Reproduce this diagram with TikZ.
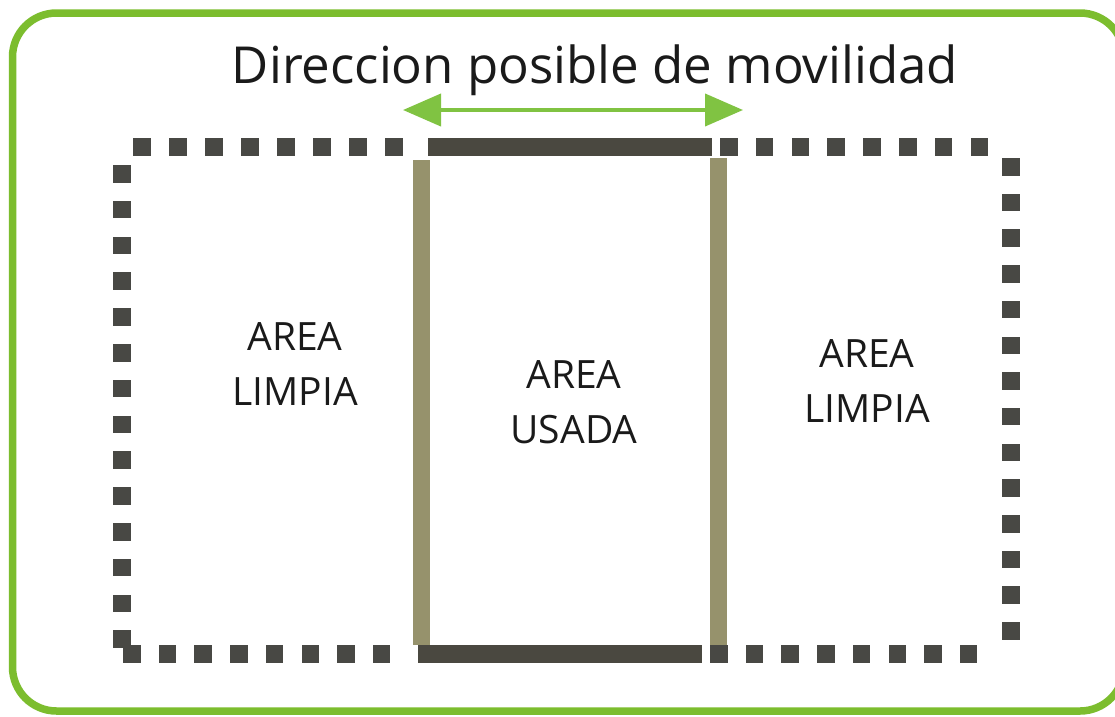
\documentclass[tikz,border=0pt]{standalone}
\usepackage{fontspec}
\setmainfont{Open Sans}
\usetikzlibrary{arrows.meta}
\definecolor{framegreen}{RGB}{124,189,46}
\definecolor{arrowgreen}{RGB}{128,195,66}
\definecolor{darkbar}{RGB}{74,72,64}
\definecolor{dotgray}{RGB}{72,72,68}
\definecolor{olive}{RGB}{150,146,108}
\definecolor{txt}{RGB}{26,26,26}
\tikzset{
  sq/.style={fill=dotgray, draw=none},
  lbl/.style={font=\fontsize{39}{55}\selectfont, text=txt, align=center, inner sep=0pt},
  ttl/.style={font=\fontsize{51}{60}\selectfont, text=txt, inner sep=0pt, anchor=base},
}
\begin{document}
\begin{tikzpicture}[x=1pt,y=-1pt]
\clip (0,0) rectangle (1115,716);
\fill[white] (0,0) rectangle (1115,716);
% outer green frame
\draw[framegreen, line width=7.5pt, rounded corners=44pt] (12.5,13) rectangle (1124,711);
% title
\node[ttl] (title) at (595,83) {Direccion posible de movilidad};
% arrow
\coordinate (aL) at (403,110);
\coordinate (aR) at (743,110);
\draw[arrowgreen, line width=4pt, {Triangle[length=38pt,width=32pt]}-{Triangle[length=38pt,width=32pt]}] (aL) -- (aR);
% dotted boundary squares
\foreach \i in {0,...,7} {
  \fill[sq] ({133+36*\i},138) rectangle ++(17.5,17.5);
  \fill[sq] ({720+35.8*\i},138) rectangle ++(17.5,17.5);
  \fill[sq] ({123+35.7*\i},645) rectangle ++(17.5,17.5);
  \fill[sq] ({710+35.7*\i},645) rectangle ++(17.5,17.5);
}
\foreach \i in {0,...,13} {
  \fill[sq] (113,{165+35.8*\i}) rectangle ++(18,17.5);
  \fill[sq] (1002,{158+35.7*\i}) rectangle ++(18,17.5);
}
% used area
\fill[olive] (413,160) rectangle (430,645);
\fill[olive] (710,158) rectangle (727,645);
\fill[darkbar] (428,138) rectangle (712,155.5);
\fill[darkbar] (418,645) rectangle (702,662.5);
% labels
\node[lbl] (left) at (295,364) {AREA\\LIMPIA};
\node[lbl] (mid) at (574,402) {AREA\\USADA};
\node[lbl] (right) at (867,381) {AREA\\LIMPIA};
\end{tikzpicture}
\end{document}
